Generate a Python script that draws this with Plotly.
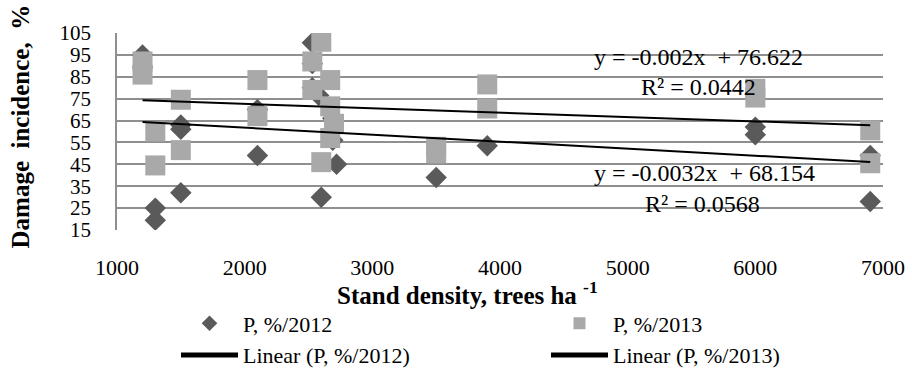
import plotly.graph_objects as go

# ---- data ----
density_2012 = [1200, 1200, 1300, 1300, 1500, 1500, 1500, 2100, 2100, 2530, 2530, 2530,
                2580, 2600, 2690, 2690, 2720, 3500, 3900, 6000, 6000, 6900, 6900]
incidence_2012 = [95, 89.5, 25, 19.5, 63, 61, 32, 70, 49, 100.5, 91, 80,
                  76.5, 30, 66, 56, 45, 39, 53.5, 62, 58.5, 49, 28]

density_2013 = [1200, 1200, 1300, 1300, 1500, 1500, 2100, 2100, 2530, 2530, 2600, 2600,
                2670, 2670, 2670, 2700, 3500, 3500, 3900, 3900, 6000, 6000, 6900, 6900]
incidence_2013 = [92, 86, 60, 44.5, 74.5, 51.5, 83.5, 67, 92, 79, 101, 46,
                  83.5, 71.5, 57, 63.5, 53, 50, 81.5, 70.5, 79.5, 75.5, 60.5, 45.5]

series_names = ["P, %/2012", "P, %/2013"]
trend_names = ["Linear (P, %/2012)", "Linear (P, %/2013)"]
trend_slope = [-0.0032, -0.002]
trend_intercept = [68.154, 76.622]
trend_eq_text = ["y = -0.0032x\u00a0\u00a0+ 68.154", "y = -0.002x\u00a0\u00a0+ 76.622"]
trend_r2_text = ["R² = 0.0568", "R² = 0.0442"]

x_ticks = [1000, 2000, 3000, 4000, 5000, 6000, 7000]
y_ticks = [15, 25, 35, 45, 55, 65, 75, 85, 95, 105]

FONT = "Liberation Serif, Times New Roman, serif"
DARK = "#5a5a5a"
LIGHT = "#a9a9a9"
GRID = "#8f8f8f"

fig = go.Figure()

fig.add_trace(go.Scatter(
    x=density_2012, y=incidence_2012, mode="markers", name=series_names[0],
    marker=dict(symbol="diamond", size=16.5, color=DARK, line=dict(width=0)),
))
fig.add_trace(go.Scatter(
    x=density_2013, y=incidence_2013, mode="markers", name=series_names[1],
    marker=dict(symbol="square", size=20, color=LIGHT, line=dict(width=0)),
))

series_x = [density_2012, density_2013]
for i in range(2):
    xs = [min(series_x[i]), max(series_x[i])]
    ys = [trend_slope[i] * v + trend_intercept[i] for v in xs]
    fig.add_trace(go.Scatter(
        x=xs, y=ys, mode="lines", name=trend_names[i],
        line=dict(color="black", width=2),
    ))

# trendline equation labels (positions in data coordinates)
label_pos = [((5598, 41.0), (5590, 26.9)), ((5551, 94.0), (5551, 80.3))]
for i in range(2):
    (ex, ey), (rx, ry) = label_pos[i]
    fig.add_annotation(x=ex, y=ey, xref="x", yref="y", text=trend_eq_text[i],
                       showarrow=False, font=dict(family=FONT, size=24, color="black"))
    fig.add_annotation(x=rx, y=ry, xref="x", yref="y", text=trend_r2_text[i],
                       showarrow=False, font=dict(family=FONT, size=24, color="black"))

# axis titles
fig.add_annotation(x=(467 - 117) / 766, y=-0.32, xref="paper", yref="paper",
                   text="Stand density, trees ha <sup>-1</sup>", showarrow=False,
                   yanchor="middle",
                   font=dict(family=FONT, size=25, color="black", weight="bold"))
fig.add_annotation(x=(20 - 117) / 766, y=(230 - 126.5) / 197, xref="paper", yref="paper",
                   text="Damage\u00a0\u00a0incidence,\u00a0\u00a0%", showarrow=False,
                   textangle=-90, xanchor="center", yanchor="middle",
                   font=dict(family=FONT, size=25, color="black", weight="bold"))

fig.update_xaxes(
    range=[1000, 7000], tickvals=x_ticks, ticktext=[str(v) for v in x_ticks],
    showgrid=False, zeroline=False, showline=False,
    ticks="outside", ticklen=18, tickcolor="rgba(0,0,0,0)",
    tickfont=dict(family=FONT, size=22, color="black"),
)
fig.update_yaxes(
    range=[15, 105], tickvals=y_ticks, ticktext=[str(v) for v in y_ticks],
    showgrid=True, gridcolor=GRID, gridwidth=1.5, zeroline=False,
    showline=True, linecolor=GRID, linewidth=1.5,
    ticks="outside", ticklen=20, tickcolor="rgba(0,0,0,0)",
    tickfont=dict(family=FONT, size=21, color="black"),
)

fig.update_layout(
    width=912, height=370,
    margin=dict(l=117, r=29, t=33, b=140, autoexpand=False),
    paper_bgcolor="white", plot_bgcolor="white",
    font=dict(family=FONT, color="black"),
    showlegend=True,
    legend=dict(
        orientation="h", x=(176 - 117) / 766, xanchor="left", y=-0.368, yanchor="top",
        entrywidth=298, entrywidthmode="pixels", itemsizing="constant", itemwidth=57,
        font=dict(family=FONT, size=22, color="black"),
        bgcolor="rgba(0,0,0,0)", tracegroupgap=0,
    ),
)

fig.write_html("out.html", config={"displayModeBar": False},
               post_script="document.body.style.margin='0';")
